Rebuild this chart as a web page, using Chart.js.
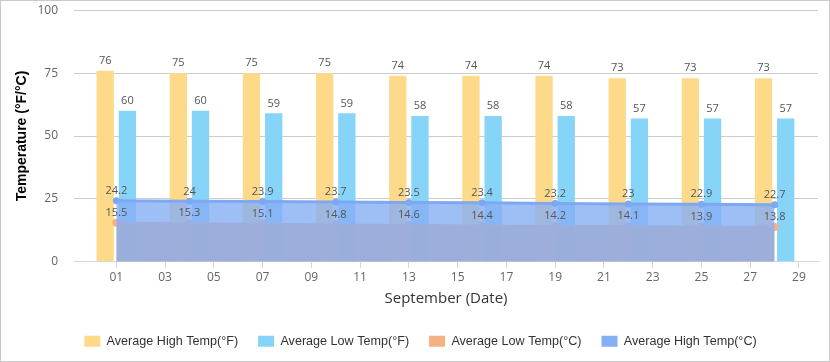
<!DOCTYPE html>
<html>
<head>
<meta charset="utf-8">
<title>September temperature</title>
<script src="https://cdn.jsdelivr.net/npm/chart.js@4.4.0/dist/chart.umd.min.js"></script>
<style>
    html,body{margin:0;padding:0;background:#fff;}
    .chart-wrap{width:830px;height:362px;border:1px solid #c9c9c9;box-sizing:border-box;}
    .chart-wrap canvas{display:block;}
</style>
</head>
<body>
<div class="chart-wrap"><canvas id="chart" width="828" height="360"></canvas></div>
<script>
// 数据：九月每隔三天一个点
var days = [1, 4, 7, 10, 13, 16, 19, 22, 25, 28];
var highF = [76, 75, 75, 75, 74, 74, 74, 73, 73, 73];
var lowF = [60, 60, 59, 59, 58, 58, 58, 57, 57, 57];
var lowC = [15.5, 15.3, 15.1, 14.8, 14.6, 14.4, 14.2, 14.1, 13.9, 13.8];
var highC = [24.2, 24, 23.9, 23.7, 23.5, 23.4, 23.2, 23, 22.9, 22.7];
var xTickValues = [1, 3, 5, 7, 9, 11, 13, 15, 17, 19, 21, 23, 25, 27, 29];
var xTickLabels = ["01", "03", "05", "07", "09", "11", "13", "15", "17", "19", "21", "23", "25", "27", "29"];
var yTicks = [0, 25, 50, 75, 100];
var seriesNames = ["Average High Temp(°F)", "Average Low Temp(°F)", "Average Low Temp(°C)", "Average High Temp(°C)"];

//颜色，图例里用实心色块
var legendColors = ["#fdda8a", "#87d4f9", "#f4b183", "#86aef4"];

//把x和y拼成点
function toPoints(values) {
    return values.map(function(v, i) {
        return { x: days[i], y: v };
    });
}

//柱子和点上面的数字
var valueLabels = {
    id: "valueLabels",
    afterDatasetsDraw: function(chart) {
        var ctx = chart.ctx;
        ctx.save();
        ctx.font = '11px "Open Sans"';
        ctx.fillStyle = "#555";
        ctx.textAlign = "center";
        ctx.textBaseline = "middle";
        chart.data.datasets.forEach(function(ds, i) {
            var meta = chart.getDatasetMeta(i);
            meta.data.forEach(function(el, j) {
                ctx.fillText(ds.data[j].y, el.x, el.y - 10);
            });
        });
        ctx.restore();
    }
};

new Chart(document.getElementById("chart"), {
    type: "bar",
    data: {
        datasets: [{
            label: seriesNames[0],
            data: toPoints(highF),
            backgroundColor: legendColors[0],
            borderWidth: 0,
            categoryPercentage: 0.91,
            barPercentage: 0.78,
            order: 2
        }, {
            label: seriesNames[1],
            data: toPoints(lowF),
            backgroundColor: legendColors[1],
            borderWidth: 0,
            categoryPercentage: 0.91,
            barPercentage: 0.78,
            order: 3
        }, {
            type: "line",
            label: seriesNames[2],
            data: toPoints(lowC),
            borderColor: "#f4b183",
            backgroundColor: "rgba(244,170,110,0.9)",
            borderWidth: 2,
            fill: "origin",
            tension: 0,
            pointRadius: 4,
            pointBackgroundColor: "#f4b183",
            pointBorderWidth: 0,
            order: 1
        }, {
            type: "line",
            label: seriesNames[3],
            data: toPoints(highC),
            borderColor: "#7fa8f2",
            backgroundColor: "rgba(134,174,244,0.8)",
            borderWidth: 3,
            fill: "origin",
            tension: 0,
            pointRadius: 3.5,
            pointBackgroundColor: "#7fa8f2",
            pointBorderWidth: 0,
            order: 0
        }]
    },
    options: {
        responsive: false,
        animation: false,
        devicePixelRatio: 1,
        layout: { padding: { left: 22, right: 11, top: 9.3, bottom: 3.5 } },
        plugins: {
            tooltip: { enabled: false },
            legend: {
                position: "bottom",
                labels: {
                    boxWidth: 16,
                    boxHeight: 11,
                    padding: 20,
                    color: "#333",
                    font: { family: '"Liberation Sans", Arial', size: 12.6 },
                    sort: function(a, b) { return a.datasetIndex - b.datasetIndex; },
                    generateLabels: function(chart) {
                        var items = Chart.defaults.plugins.legend.labels.generateLabels(chart);
                        items.forEach(function(item) {
                            item.fillStyle = legendColors[item.datasetIndex];
                            item.strokeStyle = legendColors[item.datasetIndex];
                            item.lineWidth = 0;
                        });
                        return items;
                    }
                }
            }
        },
        scales: {
            x: {
                type: "linear",
                min: -0.735,
                max: 29.78,
                offset: false,
                grid: { offset: false, drawOnChartArea: false, drawTicks: true, tickLength: 6, tickColor: "#ccd6eb" },
                border: { color: "#ccd6eb" },
                ticks: {
                    autoSkip: false,
                    maxRotation: 0,
                    padding: 3,
                    color: "#666",
                    font: { family: '"Open Sans"', size: 12 },
                    callback: function(value, index) { return xTickLabels[index]; }
                },
                afterBuildTicks: function(scale) {
                    scale.ticks = xTickValues.map(function(v) { return { value: v }; });
                },
                afterFit: function(scale) {
                    scale.height = 53.2;
                    scale.paddingLeft = 0;
                    scale.paddingRight = 0;
                },
                title: {
                    display: true,
                    text: "September (Date)",
                    color: "#333",
                    font: { family: '"Open Sans"', size: 15 },
                    padding: { top: 0, bottom: 7.5 }
                }
            },
            y: {
                min: 0,
                max: 100,
                grid: { color: "#cccccc", drawTicks: false },
                border: { display: false },
                ticks: {
                    stepSize: 25,
                    padding: 16,
                    color: "#666",
                    font: { family: '"Open Sans"', size: 12 }
                },
                afterBuildTicks: function(scale) {
                    scale.ticks = yTicks.map(function(v) { return { value: v }; });
                },
                //刻度的padding会被算进上下留白里，这里清掉
                afterFit: function(scale) {
                    scale.width = 51;
                    scale.paddingTop = 0;
                    scale.paddingBottom = 0;
                },
                title: {
                    display: true,
                    text: "Temperature (°F/°C)",
                    color: "#000",
                    font: { family: '"Liberation Sans", Arial', size: 14, weight: "bold" },
                    padding: { top: -9.4, bottom: 0 }
                }
            }
        }
    },
    plugins: [valueLabels]
});
</script>
</body>
</html>
